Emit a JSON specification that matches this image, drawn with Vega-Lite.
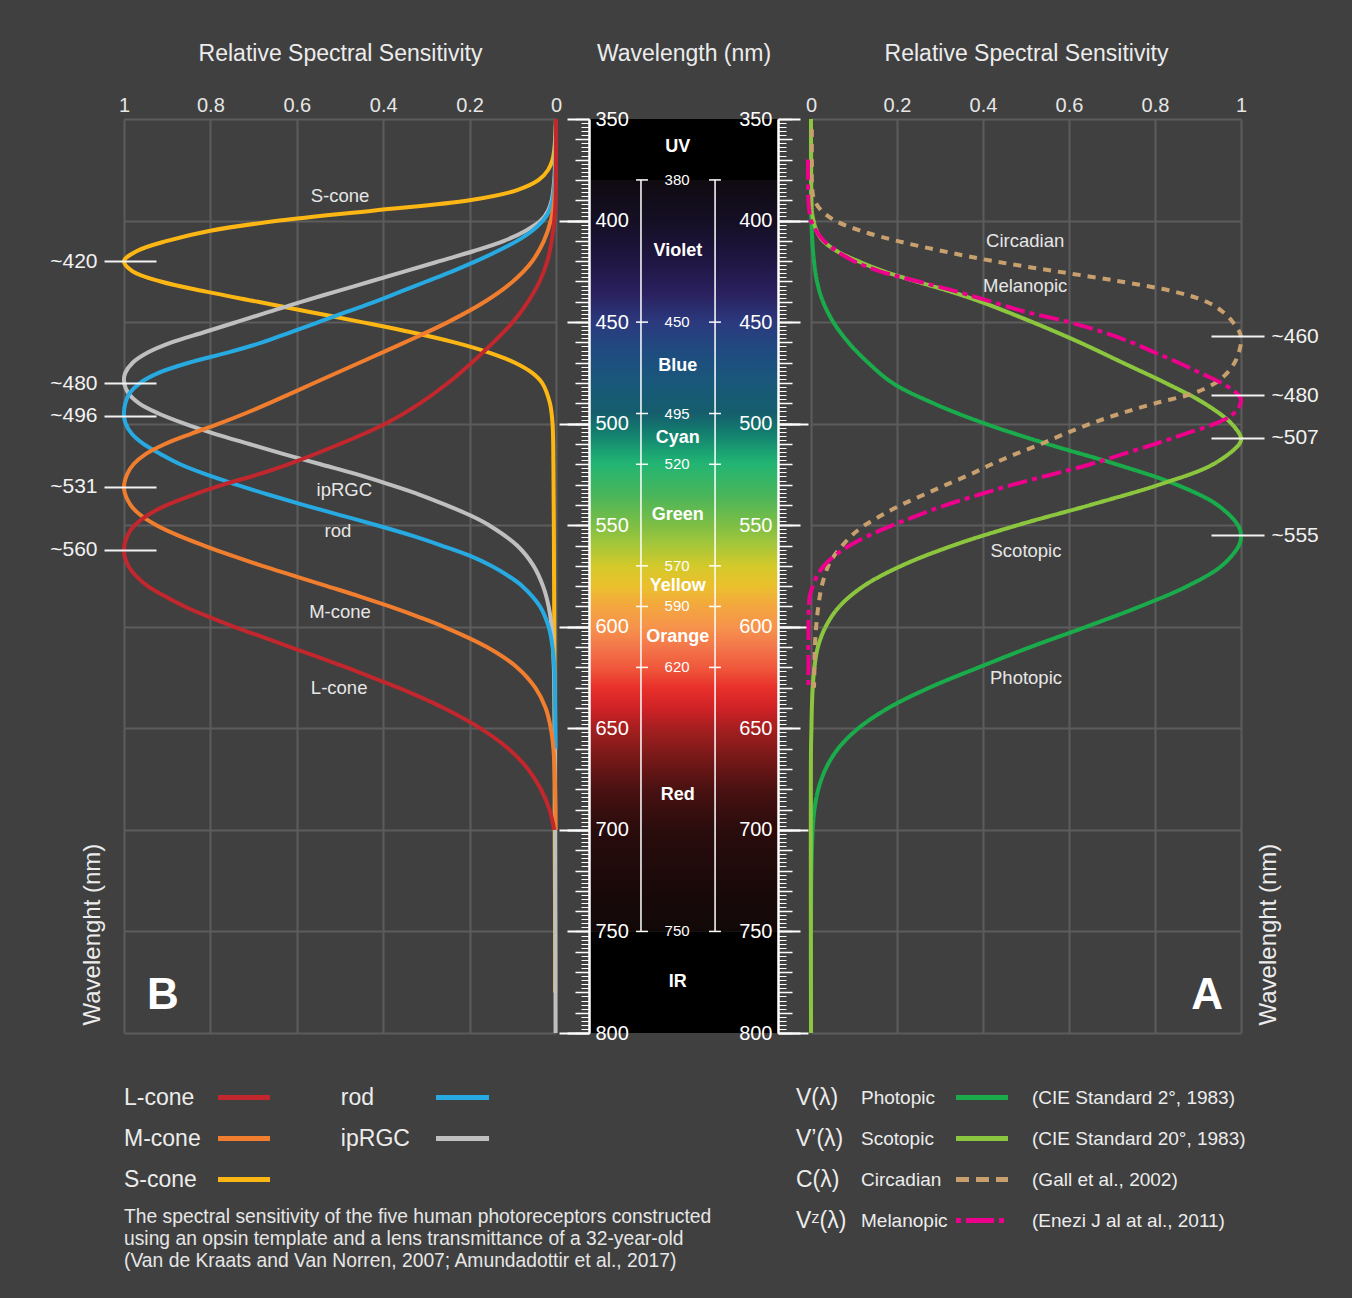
{
"$schema": "https://vega.github.io/schema/vega-lite/v6.json",
"background": "#404040",
"padding": {"left": 49, "top": 42, "right": 33, "bottom": 26},
"config": {
  "font": "Liberation Sans",
  "view": {"stroke": null},
  "axis": {"labelFont": "Liberation Sans", "titleFont": "Liberation Sans", "labelColor": "#e6e6e6", "titleColor": "#ececec", "titleFontWeight": "normal", "grid": false, "ticks": false, "domain": false, "labelOverlap": false, "labelFlush": false, "gridColor": "#5c5c5c", "gridWidth": 2},
  "text": {"font": "Liberation Sans"},
  "title": {"font": "Liberation Sans"}
},
"datasets": {
  "Bcurves": [
    {"series":"S-cone","nm":350,"v":0},{"series":"S-cone","nm":360,"v":0.002},{"series":"S-cone","nm":365,"v":0.004},{"series":"S-cone","nm":370,"v":0.008},{"series":"S-cone","nm":375,"v":0.018},{"series":"S-cone","nm":380,"v":0.04},{"series":"S-cone","nm":385,"v":0.09},{"series":"S-cone","nm":390,"v":0.2},{"series":"S-cone","nm":395,"v":0.42},{"series":"S-cone","nm":400,"v":0.64},{"series":"S-cone","nm":405,"v":0.8},{"series":"S-cone","nm":410,"v":0.9},{"series":"S-cone","nm":415,"v":0.97},{"series":"S-cone","nm":420,"v":1},{"series":"S-cone","nm":425,"v":0.98},{"series":"S-cone","nm":430,"v":0.915},{"series":"S-cone","nm":435,"v":0.81},{"series":"S-cone","nm":440,"v":0.69},{"series":"S-cone","nm":445,"v":0.57},{"series":"S-cone","nm":450,"v":0.45},{"series":"S-cone","nm":455,"v":0.335},{"series":"S-cone","nm":460,"v":0.235},{"series":"S-cone","nm":465,"v":0.155},{"series":"S-cone","nm":470,"v":0.095},{"series":"S-cone","nm":475,"v":0.055},{"series":"S-cone","nm":480,"v":0.032},{"series":"S-cone","nm":490,"v":0.014},{"series":"S-cone","nm":500,"v":0.008},{"series":"S-cone","nm":520,"v":0.006},{"series":"S-cone","nm":550,"v":0.005},{"series":"S-cone","nm":600,"v":0.004},{"series":"S-cone","nm":650,"v":0.003},{"series":"S-cone","nm":700,"v":0.003},{"series":"S-cone","nm":750,"v":0.002},{"series":"S-cone","nm":780,"v":0.002},
    {"series":"ipRGC","nm":350,"v":0},{"series":"ipRGC","nm":360,"v":0.001},{"series":"ipRGC","nm":370,"v":0.002},{"series":"ipRGC","nm":380,"v":0.004},{"series":"ipRGC","nm":390,"v":0.01},{"series":"ipRGC","nm":395,"v":0.018},{"series":"ipRGC","nm":400,"v":0.035},{"series":"ipRGC","nm":405,"v":0.07},{"series":"ipRGC","nm":410,"v":0.12},{"series":"ipRGC","nm":415,"v":0.19},{"series":"ipRGC","nm":420,"v":0.27},{"series":"ipRGC","nm":425,"v":0.35},{"series":"ipRGC","nm":430,"v":0.43},{"series":"ipRGC","nm":435,"v":0.51},{"series":"ipRGC","nm":440,"v":0.59},{"series":"ipRGC","nm":445,"v":0.665},{"series":"ipRGC","nm":450,"v":0.74},{"series":"ipRGC","nm":455,"v":0.815},{"series":"ipRGC","nm":460,"v":0.89},{"series":"ipRGC","nm":465,"v":0.945},{"series":"ipRGC","nm":470,"v":0.98},{"series":"ipRGC","nm":475,"v":0.997},{"series":"ipRGC","nm":479,"v":1},{"series":"ipRGC","nm":485,"v":0.99},{"series":"ipRGC","nm":490,"v":0.965},{"series":"ipRGC","nm":495,"v":0.92},{"series":"ipRGC","nm":500,"v":0.86},{"series":"ipRGC","nm":505,"v":0.79},{"series":"ipRGC","nm":510,"v":0.71},{"series":"ipRGC","nm":515,"v":0.63},{"series":"ipRGC","nm":520,"v":0.545},{"series":"ipRGC","nm":525,"v":0.46},{"series":"ipRGC","nm":530,"v":0.385},{"series":"ipRGC","nm":535,"v":0.315},{"series":"ipRGC","nm":540,"v":0.255},{"series":"ipRGC","nm":545,"v":0.2},{"series":"ipRGC","nm":550,"v":0.155},{"series":"ipRGC","nm":560,"v":0.09},{"series":"ipRGC","nm":570,"v":0.052},{"series":"ipRGC","nm":580,"v":0.03},{"series":"ipRGC","nm":590,"v":0.017},{"series":"ipRGC","nm":600,"v":0.01},{"series":"ipRGC","nm":620,"v":0.005},{"series":"ipRGC","nm":650,"v":0.003},{"series":"ipRGC","nm":700,"v":0.002},{"series":"ipRGC","nm":800,"v":0.001},
    {"series":"rod","nm":350,"v":0},{"series":"rod","nm":370,"v":0.001},{"series":"rod","nm":380,"v":0.003},{"series":"rod","nm":390,"v":0.008},{"series":"rod","nm":395,"v":0.015},{"series":"rod","nm":400,"v":0.03},{"series":"rod","nm":405,"v":0.055},{"series":"rod","nm":410,"v":0.09},{"series":"rod","nm":415,"v":0.135},{"series":"rod","nm":420,"v":0.185},{"series":"rod","nm":425,"v":0.24},{"series":"rod","nm":430,"v":0.3},{"series":"rod","nm":435,"v":0.36},{"series":"rod","nm":440,"v":0.42},{"series":"rod","nm":445,"v":0.485},{"series":"rod","nm":450,"v":0.55},{"series":"rod","nm":455,"v":0.615},{"series":"rod","nm":460,"v":0.68},{"series":"rod","nm":465,"v":0.76},{"series":"rod","nm":470,"v":0.85},{"series":"rod","nm":475,"v":0.92},{"series":"rod","nm":480,"v":0.963},{"series":"rod","nm":485,"v":0.987},{"series":"rod","nm":490,"v":0.997},{"series":"rod","nm":496,"v":1},{"series":"rod","nm":500,"v":0.996},{"series":"rod","nm":505,"v":0.982},{"series":"rod","nm":510,"v":0.955},{"series":"rod","nm":515,"v":0.915},{"series":"rod","nm":520,"v":0.87},{"series":"rod","nm":525,"v":0.81},{"series":"rod","nm":530,"v":0.74},{"series":"rod","nm":535,"v":0.665},{"series":"rod","nm":540,"v":0.585},{"series":"rod","nm":545,"v":0.5},{"series":"rod","nm":550,"v":0.415},{"series":"rod","nm":555,"v":0.335},{"series":"rod","nm":560,"v":0.265},{"series":"rod","nm":565,"v":0.2},{"series":"rod","nm":570,"v":0.15},{"series":"rod","nm":575,"v":0.11},{"series":"rod","nm":580,"v":0.078},{"series":"rod","nm":590,"v":0.037},{"series":"rod","nm":600,"v":0.017},{"series":"rod","nm":610,"v":0.008},{"series":"rod","nm":620,"v":0.004},{"series":"rod","nm":640,"v":0.002},{"series":"rod","nm":660,"v":0.001},
    {"series":"M-cone","nm":350,"v":0},{"series":"M-cone","nm":380,"v":0.001},{"series":"M-cone","nm":390,"v":0.004},{"series":"M-cone","nm":400,"v":0.012},{"series":"M-cone","nm":410,"v":0.028},{"series":"M-cone","nm":420,"v":0.055},{"series":"M-cone","nm":430,"v":0.1},{"series":"M-cone","nm":440,"v":0.165},{"series":"M-cone","nm":450,"v":0.25},{"series":"M-cone","nm":460,"v":0.35},{"series":"M-cone","nm":470,"v":0.455},{"series":"M-cone","nm":480,"v":0.56},{"series":"M-cone","nm":490,"v":0.665},{"series":"M-cone","nm":495,"v":0.72},{"series":"M-cone","nm":500,"v":0.78},{"series":"M-cone","nm":505,"v":0.845},{"series":"M-cone","nm":510,"v":0.905},{"series":"M-cone","nm":515,"v":0.95},{"series":"M-cone","nm":520,"v":0.978},{"series":"M-cone","nm":525,"v":0.993},{"series":"M-cone","nm":532,"v":1},{"series":"M-cone","nm":540,"v":0.985},{"series":"M-cone","nm":545,"v":0.962},{"series":"M-cone","nm":550,"v":0.925},{"series":"M-cone","nm":555,"v":0.875},{"series":"M-cone","nm":560,"v":0.815},{"series":"M-cone","nm":565,"v":0.75},{"series":"M-cone","nm":570,"v":0.68},{"series":"M-cone","nm":575,"v":0.605},{"series":"M-cone","nm":580,"v":0.53},{"series":"M-cone","nm":585,"v":0.455},{"series":"M-cone","nm":590,"v":0.385},{"series":"M-cone","nm":595,"v":0.32},{"series":"M-cone","nm":600,"v":0.26},{"series":"M-cone","nm":610,"v":0.16},{"series":"M-cone","nm":620,"v":0.09},{"series":"M-cone","nm":630,"v":0.048},{"series":"M-cone","nm":640,"v":0.024},{"series":"M-cone","nm":650,"v":0.012},{"series":"M-cone","nm":660,"v":0.006},{"series":"M-cone","nm":680,"v":0.002},{"series":"M-cone","nm":700,"v":0.001},
    {"series":"L-cone","nm":350,"v":0},{"series":"L-cone","nm":390,"v":0.001},{"series":"L-cone","nm":400,"v":0.004},{"series":"L-cone","nm":410,"v":0.01},{"series":"L-cone","nm":420,"v":0.02},{"series":"L-cone","nm":430,"v":0.038},{"series":"L-cone","nm":440,"v":0.065},{"series":"L-cone","nm":450,"v":0.1},{"series":"L-cone","nm":460,"v":0.145},{"series":"L-cone","nm":470,"v":0.195},{"series":"L-cone","nm":480,"v":0.25},{"series":"L-cone","nm":490,"v":0.315},{"series":"L-cone","nm":500,"v":0.395},{"series":"L-cone","nm":510,"v":0.5},{"series":"L-cone","nm":520,"v":0.62},{"series":"L-cone","nm":525,"v":0.69},{"series":"L-cone","nm":530,"v":0.77},{"series":"L-cone","nm":535,"v":0.84},{"series":"L-cone","nm":540,"v":0.9},{"series":"L-cone","nm":545,"v":0.945},{"series":"L-cone","nm":550,"v":0.975},{"series":"L-cone","nm":555,"v":0.992},{"series":"L-cone","nm":563,"v":1},{"series":"L-cone","nm":570,"v":0.99},{"series":"L-cone","nm":575,"v":0.972},{"series":"L-cone","nm":580,"v":0.945},{"series":"L-cone","nm":585,"v":0.905},{"series":"L-cone","nm":590,"v":0.86},{"series":"L-cone","nm":595,"v":0.805},{"series":"L-cone","nm":600,"v":0.745},{"series":"L-cone","nm":605,"v":0.68},{"series":"L-cone","nm":610,"v":0.615},{"series":"L-cone","nm":615,"v":0.55},{"series":"L-cone","nm":620,"v":0.485},{"series":"L-cone","nm":625,"v":0.425},{"series":"L-cone","nm":630,"v":0.365},{"series":"L-cone","nm":640,"v":0.26},{"series":"L-cone","nm":650,"v":0.175},{"series":"L-cone","nm":660,"v":0.11},{"series":"L-cone","nm":670,"v":0.065},{"series":"L-cone","nm":680,"v":0.035},{"series":"L-cone","nm":690,"v":0.015},{"series":"L-cone","nm":700,"v":0.004}
  ],
  "Acurves": [
    {"series":"Photopic","nm":350,"v":0},{"series":"Photopic","nm":390,"v":0},{"series":"Photopic","nm":400,"v":0.001},{"series":"Photopic","nm":410,"v":0.003},{"series":"Photopic","nm":420,"v":0.007},{"series":"Photopic","nm":430,"v":0.014},{"series":"Photopic","nm":440,"v":0.028},{"series":"Photopic","nm":450,"v":0.052},{"series":"Photopic","nm":460,"v":0.087},{"series":"Photopic","nm":470,"v":0.133},{"series":"Photopic","nm":480,"v":0.19},{"series":"Photopic","nm":490,"v":0.285},{"series":"Photopic","nm":500,"v":0.405},{"series":"Photopic","nm":510,"v":0.55},{"series":"Photopic","nm":520,"v":0.71},{"series":"Photopic","nm":530,"v":0.85},{"series":"Photopic","nm":540,"v":0.945},{"series":"Photopic","nm":550,"v":0.993},{"series":"Photopic","nm":555,"v":1},{"series":"Photopic","nm":560,"v":0.995},{"series":"Photopic","nm":570,"v":0.955},{"series":"Photopic","nm":580,"v":0.875},{"series":"Photopic","nm":590,"v":0.765},{"series":"Photopic","nm":600,"v":0.64},{"series":"Photopic","nm":610,"v":0.51},{"series":"Photopic","nm":620,"v":0.39},{"series":"Photopic","nm":630,"v":0.275},{"series":"Photopic","nm":640,"v":0.18},{"series":"Photopic","nm":650,"v":0.11},{"series":"Photopic","nm":660,"v":0.063},{"series":"Photopic","nm":670,"v":0.034},{"series":"Photopic","nm":680,"v":0.017},{"series":"Photopic","nm":690,"v":0.008},{"series":"Photopic","nm":700,"v":0.004},{"series":"Photopic","nm":720,"v":0.001},{"series":"Photopic","nm":750,"v":0},{"series":"Photopic","nm":800,"v":0},
    {"series":"Scotopic","nm":350,"v":0},{"series":"Scotopic","nm":390,"v":0.001},{"series":"Scotopic","nm":395,"v":0.002},{"series":"Scotopic","nm":400,"v":0.006},{"series":"Scotopic","nm":405,"v":0.013},{"series":"Scotopic","nm":410,"v":0.028},{"series":"Scotopic","nm":415,"v":0.06},{"series":"Scotopic","nm":420,"v":0.11},{"series":"Scotopic","nm":425,"v":0.17},{"series":"Scotopic","nm":430,"v":0.245},{"series":"Scotopic","nm":435,"v":0.325},{"series":"Scotopic","nm":440,"v":0.395},{"series":"Scotopic","nm":450,"v":0.515},{"series":"Scotopic","nm":460,"v":0.625},{"series":"Scotopic","nm":470,"v":0.725},{"series":"Scotopic","nm":480,"v":0.825},{"series":"Scotopic","nm":490,"v":0.915},{"series":"Scotopic","nm":500,"v":0.978},{"series":"Scotopic","nm":507,"v":1},{"series":"Scotopic","nm":510,"v":0.996},{"series":"Scotopic","nm":520,"v":0.935},{"series":"Scotopic","nm":530,"v":0.81},{"series":"Scotopic","nm":540,"v":0.65},{"series":"Scotopic","nm":550,"v":0.48},{"series":"Scotopic","nm":560,"v":0.33},{"series":"Scotopic","nm":570,"v":0.21},{"series":"Scotopic","nm":580,"v":0.122},{"series":"Scotopic","nm":590,"v":0.066},{"series":"Scotopic","nm":600,"v":0.034},{"series":"Scotopic","nm":610,"v":0.016},{"series":"Scotopic","nm":620,"v":0.008},{"series":"Scotopic","nm":630,"v":0.004},{"series":"Scotopic","nm":640,"v":0.002},{"series":"Scotopic","nm":650,"v":0.001},{"series":"Scotopic","nm":660,"v":0},{"series":"Scotopic","nm":800,"v":0},
    {"series":"Circadian","nm":355,"v":0.002},{"series":"Circadian","nm":370,"v":0.002},{"series":"Circadian","nm":385,"v":0.003},{"series":"Circadian","nm":390,"v":0.008},{"series":"Circadian","nm":395,"v":0.024},{"series":"Circadian","nm":400,"v":0.056},{"series":"Circadian","nm":405,"v":0.115},{"series":"Circadian","nm":410,"v":0.2},{"series":"Circadian","nm":415,"v":0.305},{"series":"Circadian","nm":420,"v":0.425},{"series":"Circadian","nm":425,"v":0.57},{"series":"Circadian","nm":430,"v":0.72},{"series":"Circadian","nm":435,"v":0.845},{"series":"Circadian","nm":440,"v":0.92},{"series":"Circadian","nm":445,"v":0.958},{"series":"Circadian","nm":450,"v":0.981},{"series":"Circadian","nm":457,"v":1},{"series":"Circadian","nm":465,"v":0.995},{"series":"Circadian","nm":470,"v":0.985},{"series":"Circadian","nm":475,"v":0.968},{"series":"Circadian","nm":480,"v":0.94},{"series":"Circadian","nm":485,"v":0.89},{"series":"Circadian","nm":490,"v":0.8},{"series":"Circadian","nm":495,"v":0.72},{"series":"Circadian","nm":500,"v":0.65},{"series":"Circadian","nm":505,"v":0.59},{"series":"Circadian","nm":510,"v":0.535},{"series":"Circadian","nm":515,"v":0.475},{"series":"Circadian","nm":520,"v":0.42},{"series":"Circadian","nm":525,"v":0.37},{"series":"Circadian","nm":530,"v":0.315},{"series":"Circadian","nm":535,"v":0.262},{"series":"Circadian","nm":540,"v":0.21},{"series":"Circadian","nm":545,"v":0.165},{"series":"Circadian","nm":550,"v":0.125},{"series":"Circadian","nm":555,"v":0.095},{"series":"Circadian","nm":560,"v":0.073},{"series":"Circadian","nm":565,"v":0.054},{"series":"Circadian","nm":570,"v":0.04},{"series":"Circadian","nm":580,"v":0.025},{"series":"Circadian","nm":590,"v":0.017},{"series":"Circadian","nm":600,"v":0.012},{"series":"Circadian","nm":610,"v":0.009},{"series":"Circadian","nm":620,"v":0.008},{"series":"Circadian","nm":630,"v":0.007},
    {"series":"Melanopic","nm":370,"v":-0.007},{"series":"Melanopic","nm":380,"v":-0.007},{"series":"Melanopic","nm":390,"v":-0.006},{"series":"Melanopic","nm":395,"v":-0.004},{"series":"Melanopic","nm":400,"v":0},{"series":"Melanopic","nm":405,"v":0.012},{"series":"Melanopic","nm":410,"v":0.03},{"series":"Melanopic","nm":415,"v":0.06},{"series":"Melanopic","nm":420,"v":0.1},{"series":"Melanopic","nm":425,"v":0.16},{"series":"Melanopic","nm":430,"v":0.25},{"series":"Melanopic","nm":435,"v":0.34},{"series":"Melanopic","nm":440,"v":0.42},{"series":"Melanopic","nm":445,"v":0.5},{"series":"Melanopic","nm":450,"v":0.6},{"series":"Melanopic","nm":455,"v":0.68},{"series":"Melanopic","nm":460,"v":0.745},{"series":"Melanopic","nm":465,"v":0.8},{"series":"Melanopic","nm":470,"v":0.855},{"series":"Melanopic","nm":475,"v":0.905},{"series":"Melanopic","nm":480,"v":0.955},{"series":"Melanopic","nm":485,"v":0.99},{"series":"Melanopic","nm":488,"v":1},{"series":"Melanopic","nm":492,"v":0.995},{"series":"Melanopic","nm":496,"v":0.977},{"series":"Melanopic","nm":500,"v":0.94},{"series":"Melanopic","nm":505,"v":0.87},{"series":"Melanopic","nm":510,"v":0.8},{"series":"Melanopic","nm":515,"v":0.725},{"series":"Melanopic","nm":520,"v":0.65},{"series":"Melanopic","nm":525,"v":0.56},{"series":"Melanopic","nm":530,"v":0.47},{"series":"Melanopic","nm":535,"v":0.39},{"series":"Melanopic","nm":540,"v":0.315},{"series":"Melanopic","nm":545,"v":0.25},{"series":"Melanopic","nm":550,"v":0.19},{"series":"Melanopic","nm":555,"v":0.135},{"series":"Melanopic","nm":560,"v":0.09},{"series":"Melanopic","nm":565,"v":0.055},{"series":"Melanopic","nm":570,"v":0.03},{"series":"Melanopic","nm":575,"v":0.014},{"series":"Melanopic","nm":580,"v":0.004},{"series":"Melanopic","nm":585,"v":-0.003},{"series":"Melanopic","nm":590,"v":-0.005},{"series":"Melanopic","nm":600,"v":-0.006},{"series":"Melanopic","nm":615,"v":-0.006},{"series":"Melanopic","nm":630,"v":-0.006}
  ],
  "Blabels": [{"label":"S-cone","nm":388,"v":0.5},{"label":"ipRGC","nm":532.5,"v":0.49},{"label":"rod","nm":553,"v":0.505},{"label":"M-cone","nm":592.5,"v":0.5},{"label":"L-cone","nm":630,"v":0.502}],
  "Alabels": [{"label":"Circadian","nm":410.3,"v":0.498},{"label":"Melanopic","nm":432,"v":0.498},{"label":"Scotopic","nm":562.5,"v":0.5},{"label":"Photopic","nm":625,"v":0.5}],
  "bands": [{"band":"UV","lo":350,"hi":380,"center":364},{"band":"Violet","lo":380,"hi":450,"center":415},{"band":"Blue","lo":450,"hi":495,"center":471.5},{"band":"Cyan","lo":495,"hi":520,"center":507},{"band":"Green","lo":520,"hi":570,"center":545},{"band":"Yellow","lo":570,"hi":590,"center":580},{"band":"Orange","lo":590,"hi":620,"center":605},{"band":"Red","lo":620,"hi":750,"center":683},{"band":"IR","lo":750,"hi":800,"center":775}],
  "limits": [{"nm":380},{"nm":450},{"nm":495},{"nm":520},{"nm":570},{"nm":590},{"nm":620},{"nm":750}],
  "legB": [{"series":"L-cone"},{"series":"M-cone"},{"series":"S-cone"},{"series":"rod"},{"series":"ipRGC"}],
  "legA": [{"series":"Photopic","sym":"V(λ)","ref":"(CIE Standard 2°, 1983)"},{"series":"Scotopic","sym":"V’(λ)","ref":"(CIE Standard 20°, 1983)"},{"series":"Circadian","sym":"C(λ)","ref":"(Gall et al., 2002)"},{"series":"Melanopic","sym":"Vᶻ(λ)","ref":"(Enezi J al at al., 2011)"}],
  "blank": [{"note": ""}]
},
"columns": 3,
"spacing": {"row": 44, "column": 33},
"align": "each",
"bounds": "flush",
"resolve": {"scale": {"strokeDash": "independent"}},
"concat": [
  {
    "width": 432, "height": 914,
    "layer": [
      {
        "data": {"name": "Bcurves"},
        "mark": {"type": "line", "strokeWidth": 4, "interpolate": "catmull-rom"},
        "encoding": {
          "x": {"field": "v", "type": "quantitative", "scale": {"domain": [0, 1], "reverse": true, "nice": false, "zero": false},
                "axis": {"orient": "top", "values": [0, 0.2, 0.4, 0.6, 0.8, 1], "format": "~g", "grid": true, "labelPadding": 4, "labelFontSize": 20, "title": "Relative Spectral Sensitivity", "titleFontSize": 23, "titlePadding": 30}},
          "y": {"field": "nm", "type": "quantitative", "scale": {"domain": [350, 800], "reverse": true, "nice": false, "zero": false},
                "axis": {"orient": "left", "values": [350, 400, 450, 500, 550, 600, 650, 700, 750, 800], "grid": true, "labels": false, "title": "Wavelenght (nm)", "titleFontSize": 24, "titlePadding": 20, "titleAnchor": "end", "titleAlign": "left", "titleY": 906}},
          "color": {"field": "series", "type": "nominal", "scale": {"domain": ["L-cone","M-cone","S-cone","rod","ipRGC","Photopic","Scotopic","Circadian","Melanopic"], "range": ["#c1272d","#f07e2e","#fdb714","#27aae1","#bfbfbf","#1aab4b","#8cc63f","#c8a06e","#ec008c"]}, "legend": null},
          "order": {"field": "nm", "type": "quantitative"}
        }
      },
      {
        "data": {"name": "Blabels"},
        "mark": {"type": "text", "fontSize": 18.5, "color": "#e6e6e6"},
        "encoding": {
          "x": {"field": "v", "type": "quantitative", "scale": {"domain": [0, 1], "reverse": true, "nice": false, "zero": false},
                "axis": {"orient": "top", "values": [0, 0.2, 0.4, 0.6, 0.8, 1], "format": "~g", "grid": true, "labelPadding": 4, "labelFontSize": 20, "title": "Relative Spectral Sensitivity", "titleFontSize": 23, "titlePadding": 30}},
          "y": {"field": "nm", "type": "quantitative", "scale": {"domain": [350, 800], "reverse": true, "nice": false, "zero": false},
                "axis": {"orient": "left", "values": [420, 480, 496, 531, 562], "offset": -32, "ticks": true, "tickSize": 52, "tickColor": "#f2f2f2", "tickWidth": 2, "labelPadding": 7, "labelFontSize": 21, "labelColor": "#f2f2f2", "labelExpr": "datum.value == 562 ? '~560' : '~' + datum.value", "title": null, "zindex": 1}},
          "text": {"field": "label"}
        }
      },
      {
        "data": {"values": [{"panel": "B"}]},
        "mark": {"type": "text", "fontSize": 44, "fontWeight": "bold", "color": "#ffffff"},
        "encoding": {
          "x": {"datum": 0.91, "type": "quantitative", "scale": {"domain": [0, 1], "reverse": true, "nice": false, "zero": false},
                "axis": {"orient": "top", "values": [0, 0.2, 0.4, 0.6, 0.8, 1], "format": "~g", "grid": true, "labelPadding": 4, "labelFontSize": 20, "title": "Relative Spectral Sensitivity", "titleFontSize": 23, "titlePadding": 30}},
          "y": {"datum": 782, "type": "quantitative", "scale": {"domain": [350, 800], "reverse": true, "nice": false, "zero": false}, "axis": null},
          "text": {"field": "panel"}
        }
      }
    ],
    "resolve": {"axis": {"y": "independent"}}
  },
  {
    "width": 189, "height": 914,
    "layer": [
      {
        "data": {"name": "bands"},
        "transform": [{"filter": "datum.band != 'UV' && datum.band != 'IR'"}, {"aggregate": [{"op": "min", "field": "lo", "as": "lo"}, {"op": "max", "field": "hi", "as": "hi"}]}],
        "mark": {"type": "rect", "fill": {"gradient": "linear", "x1": 0, "y1": 0, "x2": 0, "y2": 1, "stops": [
          {"offset": 0, "color": "#0f0b10"}, {"offset": 0.054, "color": "#150f24"}, {"offset": 0.108, "color": "#1f1642"}, {"offset": 0.15, "color": "#2a205e"}, {"offset": 0.19, "color": "#2b3a7e"}, {"offset": 0.23, "color": "#1f4c80"}, {"offset": 0.27, "color": "#19587a"}, {"offset": 0.311, "color": "#155e6c"}, {"offset": 0.338, "color": "#13806f"}, {"offset": 0.365, "color": "#1ca673"}, {"offset": 0.378, "color": "#22b573"}, {"offset": 0.419, "color": "#48b55a"}, {"offset": 0.459, "color": "#7dbe45"}, {"offset": 0.486, "color": "#a6c73a"}, {"offset": 0.514, "color": "#d4c92a"}, {"offset": 0.541, "color": "#ebc02d"}, {"offset": 0.568, "color": "#f4a63f"}, {"offset": 0.595, "color": "#f6934c"}, {"offset": 0.622, "color": "#f3764a"}, {"offset": 0.649, "color": "#f0583b"}, {"offset": 0.676, "color": "#e8302a"}, {"offset": 0.703, "color": "#d02226"}, {"offset": 0.73, "color": "#a51f20"}, {"offset": 0.77, "color": "#761818"}, {"offset": 0.811, "color": "#4a1111"}, {"offset": 0.865, "color": "#2a0c0c"}, {"offset": 0.946, "color": "#190909"}, {"offset": 1, "color": "#120808"}]}},
        "encoding": {
          "x": {"datum": 0, "type": "quantitative", "scale": {"domain": [0, 1], "nice": false, "zero": false},
                "axis": {"orient": "top", "labels": false, "title": "Wavelength (nm)", "titleFontSize": 23, "titlePadding": 54}},
          "x2": {"datum": 1},
          "y": {"field": "lo", "type": "quantitative", "scale": {"domain": [350, 800], "reverse": true, "nice": false, "zero": false},
                "axis": {"orient": "left", "values": [350, 400, 450, 500, 550, 600, 650, 700, 750, 800], "ticks": true, "tickSize": 22, "tickColor": "#ffffff", "tickWidth": 2, "domain": true, "domainColor": "#ffffff", "domainWidth": 2.5, "labelAlign": "left", "labelPadding": -28, "labelFontSize": 20, "labelColor": "#ffffff", "title": null, "zindex": 2}},
          "y2": {"field": "hi"}
        }
      },
      {
        "data": {"name": "bands"},
        "transform": [{"filter": "datum.band == 'UV' || datum.band == 'IR'"}],
        "mark": {"type": "rect", "color": "#000000"},
        "encoding": {
          "x": {"datum": 0, "type": "quantitative", "scale": {"domain": [0, 1], "nice": false, "zero": false},
                "axis": {"orient": "top", "labels": false, "title": "Wavelength (nm)", "titleFontSize": 23, "titlePadding": 54}},
          "x2": {"datum": 1},
          "y": {"field": "lo", "type": "quantitative", "scale": {"domain": [350, 800], "reverse": true, "nice": false, "zero": false},
                "axis": {"orient": "right", "values": [350, 400, 450, 500, 550, 600, 650, 700, 750, 800], "ticks": true, "tickSize": 22, "tickColor": "#ffffff", "tickWidth": 2, "domain": true, "domainColor": "#ffffff", "domainWidth": 2.5, "labelAlign": "right", "labelPadding": -28, "labelFontSize": 20, "labelColor": "#ffffff", "title": null, "zindex": 2}},
          "y2": {"field": "hi"}
        }
      },
      {
        "data": {"name": "bands"},
        "mark": {"type": "text", "fontSize": 18, "fontWeight": "bold", "color": "#ffffff"},
        "encoding": {
          "x": {"datum": 0.47, "type": "quantitative", "scale": {"domain": [0, 1], "nice": false, "zero": false},
                "axis": {"orient": "top", "labels": false, "title": "Wavelength (nm)", "titleFontSize": 23, "titlePadding": 54}},
          "y": {"field": "center", "type": "quantitative", "scale": {"domain": [350, 800], "reverse": true, "nice": false, "zero": false},
                "axis": {"orient": "left", "values": [400, 500, 600, 700, 800], "ticks": true, "tickSize": 30, "tickColor": "#ffffff", "tickWidth": 2, "labels": false, "title": null, "zindex": 2}},
          "text": {"field": "band"}
        }
      },
      {
        "data": {"name": "limits"},
        "transform": [{"aggregate": [{"op": "min", "field": "nm", "as": "lo"}, {"op": "max", "field": "nm", "as": "hi"}]}],
        "mark": {"type": "rule", "color": "#ffffff", "strokeWidth": 1.5},
        "encoding": {
          "x": {"datum": 0.275, "type": "quantitative", "scale": {"domain": [0, 1], "nice": false, "zero": false},
                "axis": {"orient": "top", "labels": false, "title": "Wavelength (nm)", "titleFontSize": 23, "titlePadding": 54}},
          "y": {"field": "lo", "type": "quantitative", "scale": {"domain": [350, 800], "reverse": true, "nice": false, "zero": false},
                "axis": {"orient": "right", "values": [400, 500, 600, 700, 800], "ticks": true, "tickSize": 30, "tickColor": "#ffffff", "tickWidth": 2, "labels": false, "title": null, "zindex": 2}},
          "y2": {"field": "hi"}
        }
      },
      {
        "data": {"name": "limits"},
        "transform": [{"aggregate": [{"op": "min", "field": "nm", "as": "lo"}, {"op": "max", "field": "nm", "as": "hi"}]}],
        "mark": {"type": "rule", "color": "#ffffff", "strokeWidth": 1.5},
        "encoding": {
          "x": {"datum": 0.667, "type": "quantitative", "scale": {"domain": [0, 1], "nice": false, "zero": false},
                "axis": {"orient": "top", "labels": false, "title": "Wavelength (nm)", "titleFontSize": 23, "titlePadding": 54}},
          "y": {"field": "lo", "type": "quantitative", "scale": {"domain": [350, 800], "reverse": true, "nice": false, "zero": false},
                "axis": {"orient": "left", "values": [350,360,370,380,390,400,410,420,430,440,450,460,470,480,490,500,510,520,530,540,550,560,570,580,590,600,610,620,630,640,650,660,670,680,690,700,710,720,730,740,750,760,770,780,790,800], "ticks": true, "tickSize": 14, "tickColor": "#ffffff", "tickWidth": 1.5, "labels": false, "title": null, "zindex": 2}},
          "y2": {"field": "hi"}
        }
      },
      {
        "data": {"name": "limits"},
        "mark": {"type": "rule", "color": "#ffffff", "strokeWidth": 1.5},
        "encoding": {
          "x": {"datum": 0.249, "type": "quantitative", "scale": {"domain": [0, 1], "nice": false, "zero": false},
                "axis": {"orient": "top", "labels": false, "title": "Wavelength (nm)", "titleFontSize": 23, "titlePadding": 54}},
          "x2": {"datum": 0.312},
          "y": {"field": "nm", "type": "quantitative", "scale": {"domain": [350, 800], "reverse": true, "nice": false, "zero": false},
                "axis": {"orient": "right", "values": [350,360,370,380,390,400,410,420,430,440,450,460,470,480,490,500,510,520,530,540,550,560,570,580,590,600,610,620,630,640,650,660,670,680,690,700,710,720,730,740,750,760,770,780,790,800], "ticks": true, "tickSize": 14, "tickColor": "#ffffff", "tickWidth": 1.5, "labels": false, "title": null, "zindex": 2}}
        }
      },
      {
        "data": {"name": "limits"},
        "mark": {"type": "rule", "color": "#ffffff", "strokeWidth": 1.5},
        "encoding": {
          "x": {"datum": 0.635, "type": "quantitative", "scale": {"domain": [0, 1], "nice": false, "zero": false},
                "axis": {"orient": "top", "labels": false, "title": "Wavelength (nm)", "titleFontSize": 23, "titlePadding": 54}},
          "x2": {"datum": 0.698},
          "y": {"field": "nm", "type": "quantitative", "scale": {"domain": [350, 800], "reverse": true, "nice": false, "zero": false},
                "axis": {"orient": "left", "values": [350,352,354,356,358,360,362,364,366,368,370,372,374,376,378,380,382,384,386,388,390,392,394,396,398,400,402,404,406,408,410,412,414,416,418,420,422,424,426,428,430,432,434,436,438,440,442,444,446,448,450,452,454,456,458,460,462,464,466,468,470,472,474,476,478,480,482,484,486,488,490,492,494,496,498,500,502,504,506,508,510,512,514,516,518,520,522,524,526,528,530,532,534,536,538,540,542,544,546,548,550,552,554,556,558,560,562,564,566,568,570,572,574,576,578,580,582,584,586,588,590,592,594,596,598,600,602,604,606,608,610,612,614,616,618,620,622,624,626,628,630,632,634,636,638,640,642,644,646,648,650,652,654,656,658,660,662,664,666,668,670,672,674,676,678,680,682,684,686,688,690,692,694,696,698,700,702,704,706,708,710,712,714,716,718,720,722,724,726,728,730,732,734,736,738,740,742,744,746,748,750,752,754,756,758,760,762,764,766,768,770,772,774,776,778,780,782,784,786,788,790,792,794,796,798,800], "ticks": true, "tickSize": 8, "tickColor": "#ffffff", "tickWidth": 1, "labels": false, "title": null, "zindex": 2}}
        }
      },
      {
        "data": {"name": "limits"},
        "mark": {"type": "text", "fontSize": 15, "color": "#ffffff"},
        "encoding": {
          "x": {"datum": 0.466, "type": "quantitative", "scale": {"domain": [0, 1], "nice": false, "zero": false},
                "axis": {"orient": "top", "labels": false, "title": "Wavelength (nm)", "titleFontSize": 23, "titlePadding": 54}},
          "y": {"field": "nm", "type": "quantitative", "scale": {"domain": [350, 800], "reverse": true, "nice": false, "zero": false},
                "axis": {"orient": "right", "values": [350,352,354,356,358,360,362,364,366,368,370,372,374,376,378,380,382,384,386,388,390,392,394,396,398,400,402,404,406,408,410,412,414,416,418,420,422,424,426,428,430,432,434,436,438,440,442,444,446,448,450,452,454,456,458,460,462,464,466,468,470,472,474,476,478,480,482,484,486,488,490,492,494,496,498,500,502,504,506,508,510,512,514,516,518,520,522,524,526,528,530,532,534,536,538,540,542,544,546,548,550,552,554,556,558,560,562,564,566,568,570,572,574,576,578,580,582,584,586,588,590,592,594,596,598,600,602,604,606,608,610,612,614,616,618,620,622,624,626,628,630,632,634,636,638,640,642,644,646,648,650,652,654,656,658,660,662,664,666,668,670,672,674,676,678,680,682,684,686,688,690,692,694,696,698,700,702,704,706,708,710,712,714,716,718,720,722,724,726,728,730,732,734,736,738,740,742,744,746,748,750,752,754,756,758,760,762,764,766,768,770,772,774,776,778,780,782,784,786,788,790,792,794,796,798,800], "ticks": true, "tickSize": 8, "tickColor": "#ffffff", "tickWidth": 1, "labels": false, "title": null, "zindex": 2}},
          "text": {"field": "nm", "type": "quantitative", "format": "d"}
        }
      }
    ],
    "resolve": {"axis": {"y": "independent"}}
  },
  {
    "width": 430, "height": 914,
    "layer": [
      {
        "data": {"name": "Acurves"},
        "mark": {"type": "line", "strokeWidth": 4, "interpolate": "catmull-rom"},
        "encoding": {
          "x": {"field": "v", "type": "quantitative", "scale": {"domain": [0, 1], "nice": false, "zero": false},
                "axis": {"orient": "top", "values": [0, 0.2, 0.4, 0.6, 0.8, 1], "format": "~g", "grid": true, "labelPadding": 4, "labelFontSize": 20, "title": "Relative Spectral Sensitivity", "titleFontSize": 23, "titlePadding": 30}},
          "y": {"field": "nm", "type": "quantitative", "scale": {"domain": [350, 800], "reverse": true, "nice": false, "zero": false},
                "axis": {"orient": "right", "values": [350, 400, 450, 500, 550, 600, 650, 700, 750, 800], "grid": true, "labels": false, "title": "Wavelenght (nm)", "titleFontSize": 24, "titlePadding": 15, "titleAngle": 270, "titleBaseline": "top", "titleAnchor": "end", "titleAlign": "left", "titleY": 906}},
          "color": {"field": "series", "type": "nominal", "scale": {"domain": ["L-cone","M-cone","S-cone","rod","ipRGC","Photopic","Scotopic","Circadian","Melanopic"], "range": ["#c1272d","#f07e2e","#fdb714","#27aae1","#bfbfbf","#1aab4b","#8cc63f","#c8a06e","#ec008c"]}, "legend": null},
          "strokeDash": {"field": "series", "type": "nominal", "scale": {"domain": ["Photopic","Scotopic","Circadian","Melanopic"], "range": [[1,0],[1,0],[8,7],[20,5,5,5]]}, "legend": null},
          "order": {"field": "nm", "type": "quantitative"}
        }
      },
      {
        "data": {"name": "Alabels"},
        "mark": {"type": "text", "fontSize": 18.5, "color": "#e6e6e6"},
        "encoding": {
          "x": {"field": "v", "type": "quantitative", "scale": {"domain": [0, 1], "nice": false, "zero": false},
                "axis": {"orient": "top", "values": [0, 0.2, 0.4, 0.6, 0.8, 1], "format": "~g", "grid": true, "labelPadding": 4, "labelFontSize": 20, "title": "Relative Spectral Sensitivity", "titleFontSize": 23, "titlePadding": 30}},
          "y": {"field": "nm", "type": "quantitative", "scale": {"domain": [350, 800], "reverse": true, "nice": false, "zero": false},
                "axis": {"orient": "right", "values": [457, 486, 507, 555], "offset": -30, "ticks": true, "tickSize": 53, "tickColor": "#f2f2f2", "tickWidth": 2, "labelPadding": 7, "labelFontSize": 21, "labelColor": "#f2f2f2", "labelExpr": "datum.value == 457 ? '~460' : datum.value == 486 ? '~480' : '~' + datum.value", "title": null, "zindex": 1}},
          "text": {"field": "label"}
        }
      },
      {
        "data": {"values": [{"panel": "A"}]},
        "mark": {"type": "text", "fontSize": 44, "fontWeight": "bold", "color": "#ffffff"},
        "encoding": {
          "x": {"datum": 0.921, "type": "quantitative", "scale": {"domain": [0, 1], "nice": false, "zero": false},
                "axis": {"orient": "top", "values": [0, 0.2, 0.4, 0.6, 0.8, 1], "format": "~g", "grid": true, "labelPadding": 4, "labelFontSize": 20, "title": "Relative Spectral Sensitivity", "titleFontSize": 23, "titlePadding": 30}},
          "y": {"datum": 782, "type": "quantitative", "scale": {"domain": [350, 800], "reverse": true, "nice": false, "zero": false}, "axis": null},
          "text": {"field": "panel"}
        }
      }
    ],
    "resolve": {"axis": {"y": "independent"}}
  },
  {
    "width": 432, "height": 123,
    "title": {"text": ["The spectral sensitivity of the five human photoreceptors constructed", "using an opsin template and a lens transmittance of a 32-year-old", "(Van de Kraats and Van Norren, 2007; Amundadottir et al., 2017)"], "orient": "bottom", "anchor": "start", "fontSize": 19.3, "fontWeight": "normal", "color": "#e6e6e6", "offset": 8, "lineHeight": 22, "baseline": "top"},
    "data": {"name": "legB"},
    "layer": [
      {
        "transform": [{"filter": {"field": "series", "oneOf": ["L-cone", "M-cone", "S-cone"]}}],
        "mark": {"type": "text", "align": "left", "fontSize": 23, "color": "#ececec"},
        "encoding": {
          "x": {"datum": 0, "type": "quantitative", "scale": {"domain": [0, 1], "nice": false, "zero": false}, "axis": null},
          "y": {"field": "series", "type": "nominal", "scale": {"domain": ["L-cone", "M-cone", "S-cone"]}, "axis": null},
          "text": {"field": "series"}
        }
      },
      {
        "transform": [{"filter": {"field": "series", "oneOf": ["L-cone", "M-cone", "S-cone"]}}],
        "mark": {"type": "rule", "strokeWidth": 5},
        "encoding": {
          "x": {"datum": 0.2176, "type": "quantitative", "scale": {"domain": [0, 1], "nice": false, "zero": false}, "axis": null},
          "x2": {"datum": 0.338},
          "y": {"field": "series", "type": "nominal", "scale": {"domain": ["L-cone", "M-cone", "S-cone"]}, "axis": null},
          "color": {"field": "series", "type": "nominal", "scale": {"domain": ["L-cone","M-cone","S-cone","rod","ipRGC","Photopic","Scotopic","Circadian","Melanopic"], "range": ["#c1272d","#f07e2e","#fdb714","#27aae1","#bfbfbf","#1aab4b","#8cc63f","#c8a06e","#ec008c"]}, "legend": null}
        }
      },
      {
        "transform": [{"filter": {"field": "series", "oneOf": ["rod", "ipRGC"]}}],
        "mark": {"type": "text", "align": "left", "fontSize": 23, "color": "#ececec"},
        "encoding": {
          "x": {"datum": 0.502, "type": "quantitative", "scale": {"domain": [0, 1], "nice": false, "zero": false}, "axis": null},
          "y": {"field": "series", "type": "nominal", "scale": {"domain": ["rod", "ipRGC", "-"]}, "axis": null},
          "text": {"field": "series"}
        }
      },
      {
        "transform": [{"filter": {"field": "series", "oneOf": ["rod", "ipRGC"]}}],
        "mark": {"type": "rule", "strokeWidth": 5},
        "encoding": {
          "x": {"datum": 0.7222, "type": "quantitative", "scale": {"domain": [0, 1], "nice": false, "zero": false}, "axis": null},
          "x2": {"datum": 0.845},
          "y": {"field": "series", "type": "nominal", "scale": {"domain": ["rod", "ipRGC", "-"]}, "axis": null},
          "color": {"field": "series", "type": "nominal", "scale": {"domain": ["L-cone","M-cone","S-cone","rod","ipRGC","Photopic","Scotopic","Circadian","Melanopic"], "range": ["#c1272d","#f07e2e","#fdb714","#27aae1","#bfbfbf","#1aab4b","#8cc63f","#c8a06e","#ec008c"]}, "legend": null}
        }
      }
    ],
    "resolve": {"scale": {"y": "independent"}}
  },
  {
    "width": 189, "height": 10,
    "data": {"name": "blank"},
    "mark": {"type": "text"},
    "encoding": {"text": {"field": "note"}}
  },
  {
    "width": 430, "height": 164,
    "data": {"name": "legA"},
    "layer": [
      {
        "mark": {"type": "text", "align": "left", "fontSize": 23, "color": "#ececec"},
        "encoding": {
          "x": {"datum": -0.0349, "type": "quantitative", "scale": {"domain": [0, 1], "nice": false, "zero": false}, "axis": null},
          "y": {"field": "series", "type": "nominal", "scale": {"domain": ["Photopic", "Scotopic", "Circadian", "Melanopic"]}, "axis": null},
          "text": {"field": "sym"}
        }
      },
      {
        "mark": {"type": "text", "align": "left", "fontSize": 19, "color": "#ececec"},
        "encoding": {
          "x": {"datum": 0.1163, "type": "quantitative", "scale": {"domain": [0, 1], "nice": false, "zero": false}, "axis": null},
          "y": {"field": "series", "type": "nominal", "scale": {"domain": ["Photopic", "Scotopic", "Circadian", "Melanopic"]}, "axis": null},
          "text": {"field": "series"}
        }
      },
      {
        "mark": {"type": "rule", "strokeWidth": 5},
        "encoding": {
          "x": {"datum": 0.3372, "type": "quantitative", "scale": {"domain": [0, 1], "nice": false, "zero": false}, "axis": null},
          "x2": {"datum": 0.4581},
          "y": {"field": "series", "type": "nominal", "scale": {"domain": ["Photopic", "Scotopic", "Circadian", "Melanopic"]}, "axis": null},
          "color": {"field": "series", "type": "nominal", "scale": {"domain": ["L-cone","M-cone","S-cone","rod","ipRGC","Photopic","Scotopic","Circadian","Melanopic"], "range": ["#c1272d","#f07e2e","#fdb714","#27aae1","#bfbfbf","#1aab4b","#8cc63f","#c8a06e","#ec008c"]}, "legend": null},
          "strokeDash": {"field": "series", "type": "nominal", "scale": {"domain": ["Photopic","Scotopic","Circadian","Melanopic"], "range": [[1,0],[1,0],[13,7],[5,5,28,5]]}, "legend": null}
        }
      },
      {
        "mark": {"type": "text", "align": "left", "fontSize": 19, "color": "#ececec"},
        "encoding": {
          "x": {"datum": 0.514, "type": "quantitative", "scale": {"domain": [0, 1], "nice": false, "zero": false}, "axis": null},
          "y": {"field": "series", "type": "nominal", "scale": {"domain": ["Photopic", "Scotopic", "Circadian", "Melanopic"]}, "axis": null},
          "text": {"field": "ref"}
        }
      }
    ]
  }
]
}
